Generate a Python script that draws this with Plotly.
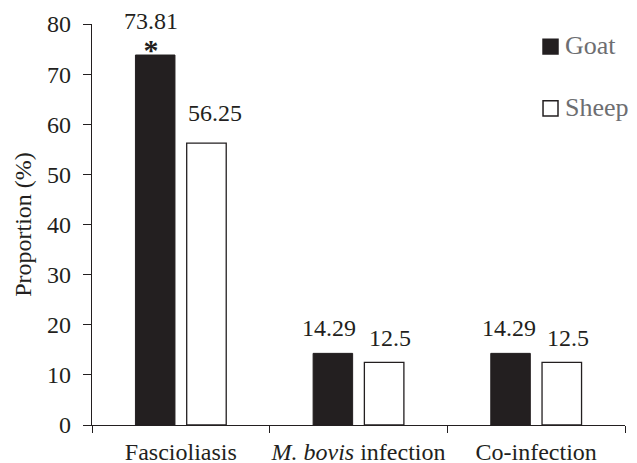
import plotly.graph_objects as go

categories = ["Fascioliasis", "M. bovis infection", "Co-infection"]
tick_labels = ["Fascioliasis", "<i>M. bovis</i> infection", "Co-infection"]
series_names = ["Goat", "Sheep"]
goat = [73.81, 14.29, 14.29]
sheep = [56.25, 12.5, 12.5]
goat_labels = ["73.81", "14.29", "14.29"]
sheep_labels = ["56.25", "12.5", "12.5"]
significance = ["*", "", ""]

INK = "#231f20"
LEGEND_GRAY = "#6d6e71"
FONT = "Liberation Serif, Times New Roman, serif"
fills = [INK, "white"]

fig = go.Figure()
fig.add_trace(go.Bar(name=series_names[0], x=categories, y=goat,
                     marker=dict(color=fills[0], line=dict(color=INK, width=1)),
                     showlegend=False, hoverinfo="skip"))
fig.add_trace(go.Bar(name=series_names[1], x=categories, y=sheep,
                     marker=dict(color=fills[1], line=dict(color=INK, width=1.3)),
                     showlegend=False, hoverinfo="skip"))

# value labels (with significance marker under the value when present)
goat_dx = [-4, -4, -2]
sheep_dx = [9, 6, 6]
goat_dy = [-13, 10, 10]
sheep_dy = [15, 9, 9]
for i, c in enumerate(categories):
    gtxt = goat_labels[i]
    if significance[i]:
        gtxt += "<br><span style='font-size:30px'><b>" + significance[i] + "</b></span>"
    fig.add_annotation(x=c, y=goat[i], text=gtxt, showarrow=False,
                       xshift=-25.6 + goat_dx[i], yshift=goat_dy[i], yanchor="bottom",
                       font=dict(size=24, color=INK, family=FONT))
    fig.add_annotation(x=c, y=sheep[i], text=sheep_labels[i], showarrow=False,
                       xshift=25.6 + sheep_dx[i], yshift=sheep_dy[i], yanchor="bottom",
                       font=dict(size=24, color=INK, family=FONT))

# legend (drawn as keys + labels in the upper right of the plot area)
key_x = (0.8462, 0.8743)
key_y = [(0.9252, 0.9618), (0.7706, 0.8087)]
label_y = [0.9456, 0.791]
for k, name in enumerate(series_names):
    fig.add_shape(type="rect", xref="paper", yref="paper",
                  x0=key_x[0], x1=key_x[1], y0=key_y[k][0], y1=key_y[k][1],
                  fillcolor=fills[k], line=dict(color=INK, width=1.5))
    fig.add_annotation(xref="paper", yref="paper", x=0.8845, y=label_y[k],
                       text=name, showarrow=False, xanchor="left", yanchor="middle",
                       font=dict(size=26, color=LEGEND_GRAY, family=FONT))

fig.update_layout(
    width=629, height=455,
    margin=dict(l=84, r=12, t=16, b=38, autoexpand=False),
    paper_bgcolor="white", plot_bgcolor="white",
    barmode="group", bargap=0.423, bargroupgap=0.229,
    font=dict(family=FONT, size=24, color=INK),
    showlegend=False,
)
fig.update_xaxes(tickvals=categories, ticktext=tick_labels, tickangle=0, automargin=False,
                 showline=True, linecolor=INK, linewidth=1.2,
                 ticks="outside", tickson="boundaries", ticklen=7, tickcolor=INK, tickwidth=1.2,
                 ticklabelstandoff=5,
                 showgrid=False, tickfont=dict(size=24, color=INK, family=FONT))
fig.update_yaxes(range=[0, 80], dtick=10, tick0=0, automargin=False,
                 showline=True, linecolor=INK, linewidth=1.2,
                 ticks="outside", ticklen=8, tickcolor=INK, tickwidth=1.2,
                 ticklabelstandoff=7,
                 showgrid=False, zeroline=False,
                 tickfont=dict(size=24, color=INK, family=FONT),
                 title=dict(text="Proportion (%)", font=dict(size=24, color=INK, family=FONT), standoff=8))

fig.write_html("out.html")
